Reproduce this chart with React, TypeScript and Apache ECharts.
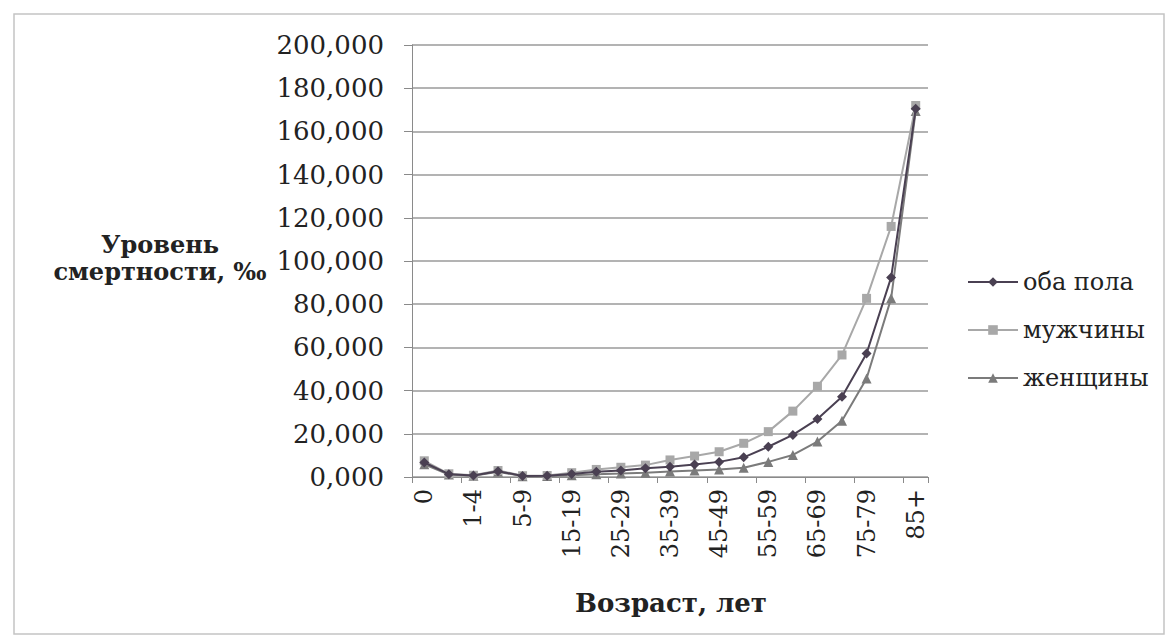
import React, { useEffect, useRef } from "react";
import * as echarts from "echarts";

const categories = ["0", "1", "1-4", "0-4", "5-9", "10-14", "15-19", "20-24", "25-29", "30-34", "35-39", "40-44", "45-49", "50-54", "55-59", "60-64", "65-69", "70-74", "75-79", "80-84", "85+"];
const both = [6.7, 1.3, 0.7, 2.7, 0.5, 0.6, 1.4, 2.4, 3.0, 4.0, 4.8, 5.8, 7.0, 9.1, 14.0, 19.5, 26.8, 37.2, 57.2, 92.4, 170.5];
const males = [7.5, 1.5, 0.8, 3.0, 0.6, 0.7, 2.0, 3.5, 4.5, 5.5, 7.9, 9.7, 11.7, 15.6, 21.0, 30.5, 42.0, 56.5, 82.7, 116.0, 172.0];
const females = [5.9, 1.1, 0.6, 2.4, 0.4, 0.5, 0.8, 1.3, 1.6, 2.0, 2.6, 3.0, 3.5, 4.3, 7.0, 10.2, 16.4, 26.0, 45.6, 82.7, 169.5];
const seriesNames = ["оба пола", "мужчины", "женщины"];
const yTitle = "Уровень\nсмертности, ‰";
const xTitle = "Возраст, лет";

const FONT = "DejaVu Serif";

export default function App() {
  const ref = useRef<HTMLDivElement>(null);
  useEffect(() => {
    const chart = echarts.init(ref.current!, null, { renderer: "svg" });
    chart.setOption({
      animation: false,
      backgroundColor: "#ffffff",
      textStyle: { fontFamily: FONT },
      grid: { left: 412, right: 245, top: 45, bottom: 164, containLabel: false },
      legend: {
        orient: "vertical",
        left: 962,
        top: 265,
        itemWidth: 50,
        itemHeight: 12,
        itemGap: 24,
        textStyle: { fontFamily: FONT, fontSize: 24, color: "#222" },
        data: seriesNames,
      },
      xAxis: {
        type: "category",
        data: categories,
        boundaryGap: true,
        axisLine: { lineStyle: { color: "#8a8a8a", width: 1 } },
        axisTick: { show: true, length: 6, lineStyle: { color: "#8a8a8a" } },
        axisLabel: {
          interval: 1,
          rotate: 90,
          fontFamily: FONT,
          fontSize: 24,
          color: "#222",
          margin: 12,
        },
        splitLine: { show: false },
      },
      yAxis: {
        type: "value",
        min: 0,
        max: 200,
        interval: 20,
        axisLine: { show: true, lineStyle: { color: "#8a8a8a", width: 1 } },
        axisTick: { show: true, length: 8, inside: false, lineStyle: { color: "#8a8a8a" } },
        axisLabel: {
          formatter: (v: number) => v.toFixed(3).replace(".", ","),
          fontFamily: FONT,
          fontSize: 26,
          color: "#222",
          margin: 28,
        },
        splitLine: { show: true, lineStyle: { color: "#9a9a9a", width: 1.5 } },
      },
      graphic: [
        {
          type: "rect",
          shape: { x: 14, y: 14, width: 1150, height: 620 },
          style: { fill: "none", stroke: "#c4c4c4", lineWidth: 1.5 },
          silent: true,
        },
        {
          type: "text",
          x: 160,
          y: 258,
          style: {
            text: yTitle,
            fontFamily: FONT,
            fontSize: 24,
            fontWeight: "bold",
            fill: "#222",
            align: "center",
            verticalAlign: "middle",
            lineHeight: 27,
          },
        },
        {
          type: "text",
          x: 671,
          y: 603,
          style: {
            text: xTitle,
            fontFamily: FONT,
            fontSize: 26,
            fontWeight: "bold",
            fill: "#222",
            align: "center",
            verticalAlign: "middle",
          },
        },
      ],
      series: [
        {
          name: seriesNames[0],
          type: "line",
          data: both,
          symbol: "diamond",
          symbolSize: 10,
          itemStyle: { color: "#4a4052" },
          lineStyle: { color: "#4a4052", width: 2 },
          z: 4,
        },
        {
          name: seriesNames[1],
          type: "line",
          data: males,
          symbol: "rect",
          symbolSize: 9,
          itemStyle: { color: "#a8a8a8" },
          lineStyle: { color: "#a8a8a8", width: 2 },
          z: 3,
        },
        {
          name: seriesNames[2],
          type: "line",
          data: females,
          symbol: "triangle",
          symbolSize: 10,
          itemStyle: { color: "#7b7b7b" },
          lineStyle: { color: "#7b7b7b", width: 2 },
          z: 2,
        },
      ],
    });
    return () => chart.dispose();
  }, []);
  return (
    <div
      ref={ref}
      style={{ position: "fixed", left: 0, top: 0, width: 1173, height: 641, background: "#fff" }}
    />
  );
}
